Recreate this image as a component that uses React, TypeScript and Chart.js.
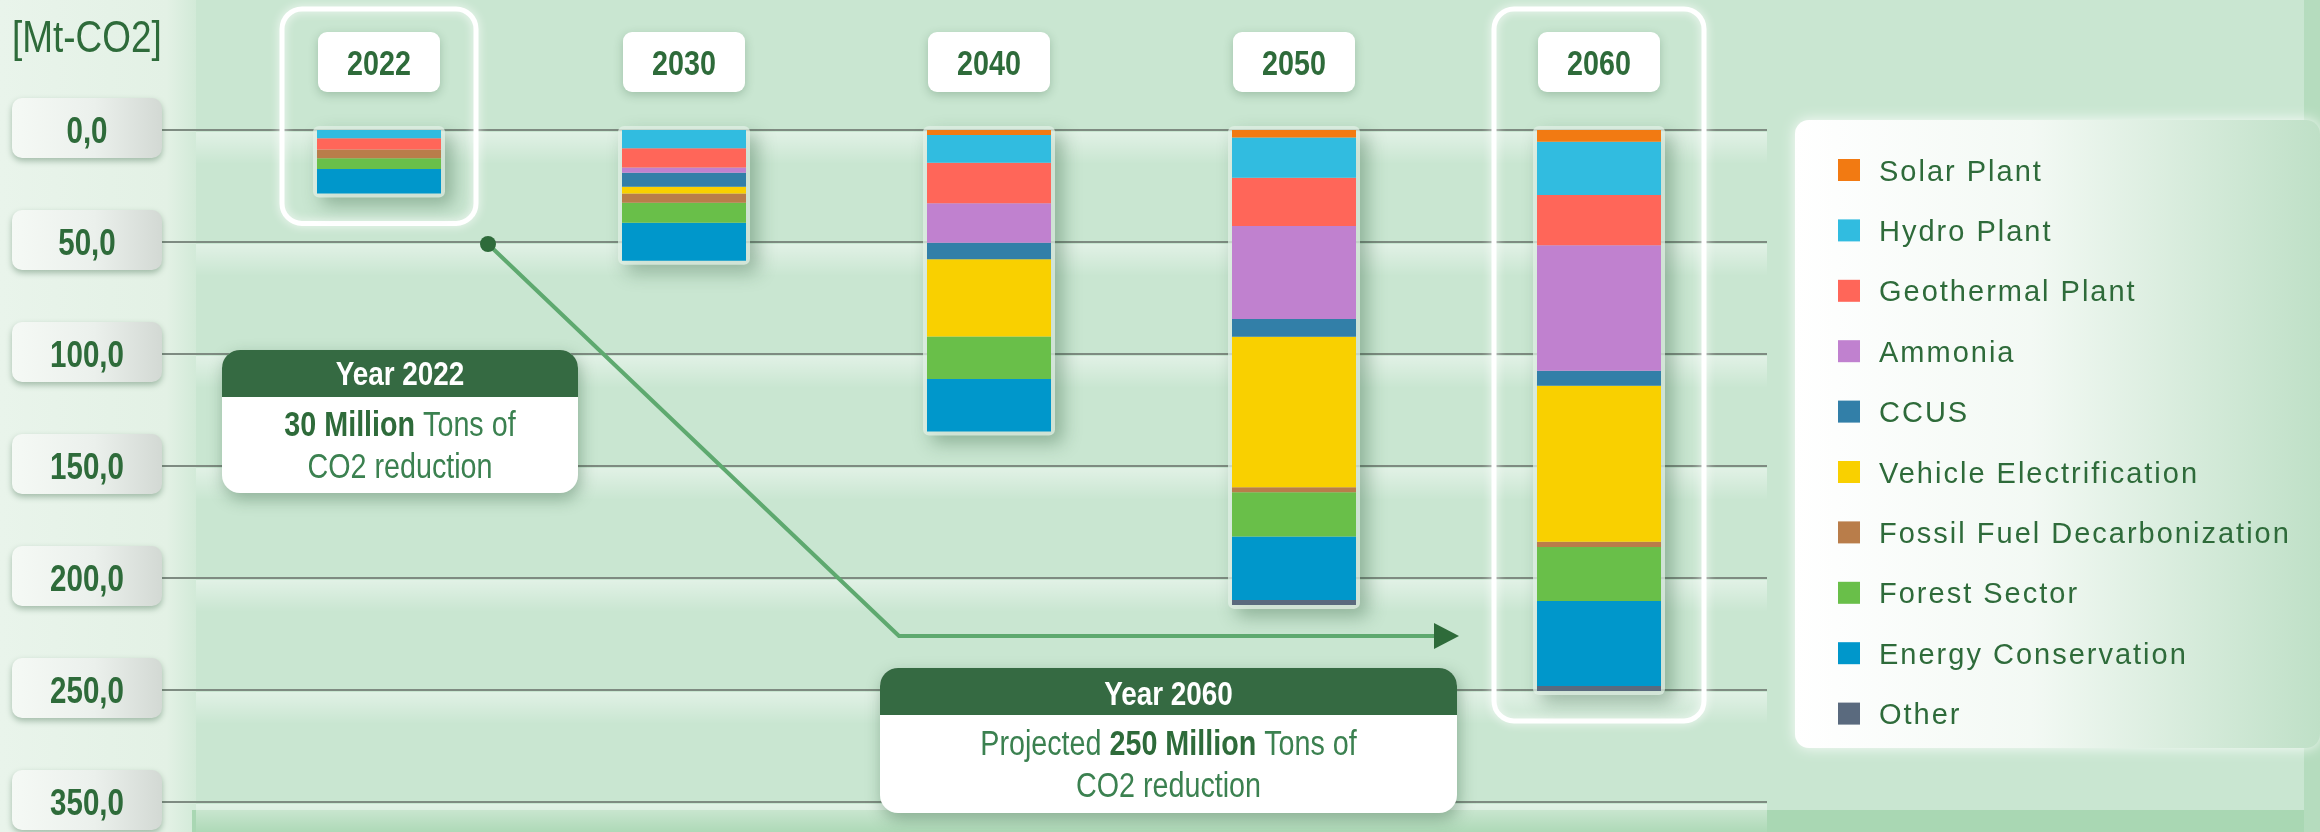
import React, { useEffect, useRef } from 'react';
import { Chart, registerables } from 'chart.js';

Chart.register(...registerables);

// ---------- data ----------
const YEARS = ['2022', '2030', '2040', '2050', '2060'];
const SERIES_NAMES = [
  'Solar Plant',
  'Hydro Plant',
  'Geothermal Plant',
  'Ammonia',
  'CCUS',
  'Vehicle Electrification',
  'Fossil Fuel Decarbonization',
  'Forest Sector',
  'Energy Conservation',
  'Other',
];
const SOLAR_PLANT = [0, 0, 2.2, 3.3, 5.3];
const HYDRO_PLANT = [3.7, 8.2, 12.4, 18.0, 23.7];
const GEOTHERMAL_PLANT = [5.0, 8.5, 18.1, 21.6, 22.4];
const AMMONIA = [0, 2.4, 17.6, 41.5, 56.1];
const CCUS = [0, 6.2, 7.4, 7.9, 6.7];
const VEHICLE_ELECTRIFICATION = [0, 3.0, 34.5, 67.2, 69.6];
const FOSSIL_FUEL_DECARBONIZATION = [3.9, 4.2, 0, 2.2, 2.4];
const FOREST_SECTOR = [4.8, 8.9, 19.0, 19.8, 24.1];
const ENERGY_CONSERVATION = [10.9, 17.0, 23.4, 28.3, 37.9];
const OTHER = [0, 0, 0, 2.2, 2.2];
const Y_TICK_VALUES = [0, 50, 100, 150, 200, 250, 300];
const Y_TICK_LABELS = ['0,0', '50,0', '100,0', '150,0', '200,0', '250,0', '350,0'];
const UNIT_LABEL = '[Mt-CO2]';
const HIGHLIGHTED_YEARS = ['2022', '2060'];

const SERIES_VALUES = [
  SOLAR_PLANT,
  HYDRO_PLANT,
  GEOTHERMAL_PLANT,
  AMMONIA,
  CCUS,
  VEHICLE_ELECTRIFICATION,
  FOSSIL_FUEL_DECARBONIZATION,
  FOREST_SECTOR,
  ENERGY_CONSERVATION,
  OTHER,
];

// ---------- styles ----------
const SERIES_COLORS = [
  '#F27A12',
  '#31BCE0',
  '#FF6659',
  '#C081CF',
  '#327FA8',
  '#F9D000',
  '#B97D4A',
  '#69BF49',
  '#0097CB',
  '#5A6A7E',
];
const FRAME_HALF_WIDTHS = [97, 105];
const W = 2320;
const H = 832;
const GREEN_DARK = '#2E6B3A';
const GREEN_TEXT = '#3B8150';
const HEADER_GREEN = '#356A42';
const SANS = "'Liberation Sans', Arial, 'DejaVu Sans', sans-serif";
const NARROW = 0.82;

function rr(ctx: CanvasRenderingContext2D, x: number, y: number, w: number, h: number, r: number) {
  ctx.beginPath();
  (ctx as any).roundRect(x, y, w, h, r);
}

function textWidth(ctx: CanvasRenderingContext2D, text: string, size: number, bold: boolean) {
  ctx.save();
  ctx.font = `${bold ? 'bold ' : ''}${size}px ${SANS}`;
  const w = ctx.measureText(text).width;
  ctx.restore();
  return w;
}

function drawCond(
  ctx: CanvasRenderingContext2D,
  text: string,
  x: number,
  baseline: number,
  size: number,
  bold: boolean,
  color: string,
  align: 'left' | 'center' = 'center',
  sx = NARROW,
) {
  const w = textWidth(ctx, text, size, bold) * sx;
  const left = align === 'center' ? x - w / 2 : x;
  ctx.save();
  ctx.font = `${bold ? 'bold ' : ''}${size}px ${SANS}`;
  ctx.translate(left, baseline);
  ctx.scale(sx, 1);
  ctx.fillStyle = color;
  ctx.textAlign = 'left';
  ctx.textBaseline = 'alphabetic';
  ctx.fillText(text, 0, 0);
  ctx.restore();
}

type Run = { t: string; bold: boolean; color: string };
function drawRuns(ctx: CanvasRenderingContext2D, runs: Run[], cx: number, baseline: number, size: number) {
  const widths = runs.map((r) => textWidth(ctx, r.t, size, r.bold) * NARROW);
  const total = widths.reduce((a, b) => a + b, 0);
  let x = cx - total / 2;
  runs.forEach((r, i) => {
    drawCond(ctx, r.t, x, baseline, size, r.bold, r.color, 'left');
    x += widths[i];
  });
}

function drawCallout(
  ctx: CanvasRenderingContext2D,
  x: number,
  y: number,
  w: number,
  h: number,
  headerH: number,
  title: string,
  lines: Run[][],
  titleBase: number,
  lineBases: number[],
) {
  ctx.save();
  ctx.shadowColor = 'rgba(20,70,35,0.35)';
  ctx.shadowBlur = 16;
  ctx.shadowOffsetY = 6;
  ctx.shadowOffsetX = 2;
  ctx.fillStyle = '#FFFFFF';
  rr(ctx, x, y, w, h, 18);
  ctx.fill();
  ctx.restore();
  ctx.save();
  rr(ctx, x, y, w, h, 18);
  ctx.clip();
  ctx.fillStyle = HEADER_GREEN;
  ctx.fillRect(x, y, w, headerH);
  ctx.restore();
  const cx = x + w / 2;
  drawCond(ctx, title, cx, titleBase, 34, true, '#FFFFFF');
  lines.forEach((ln, i) => drawRuns(ctx, ln, cx, lineBases[i], 35));
}

const decorPlugin = {
  id: 'decor',
  beforeDraw(chart: any) {
    const ctx: CanvasRenderingContext2D = chart.ctx;
    const yScale = chart.scales.y;
    ctx.save();
    ctx.fillStyle = '#C9E6D1';
    ctx.fillRect(0, 0, W, H);
    // left strip
    const g = ctx.createLinearGradient(0, 0, 196, 0);
    g.addColorStop(0, '#E9F4EB');
    g.addColorStop(0.85, '#E3F1E5');
    g.addColorStop(1, '#D2EAD8');
    ctx.fillStyle = g;
    ctx.fillRect(0, 0, 196, H);
    // bottom band
    ctx.fillStyle = '#A9D7B3';
    ctx.fillRect(192, 810, W - 192, H - 810);
    // right edge
    ctx.fillStyle = '#B5DCBE';
    ctx.fillRect(2304, 0, 16, H);
    // light bands beneath gridlines
    yScale.ticks.forEach((t: any) => {
      const py = yScale.getPixelForValue(t.value);
      const bg = ctx.createLinearGradient(0, py + 2, 0, py + 34);
      bg.addColorStop(0, 'rgba(255,255,255,0.45)');
      bg.addColorStop(1, 'rgba(255,255,255,0)');
      ctx.fillStyle = bg;
      ctx.fillRect(196, py + 2, 1767 - 196, 32);
    });
    ctx.restore();
  },
  beforeDatasetsDraw(chart: any) {
    const ctx: CanvasRenderingContext2D = chart.ctx;
    const yScale = chart.scales.y;
    const xScale = chart.scales.x;
    ctx.save();
    // gridlines
    yScale.ticks.forEach((t: any) => {
      const py = Math.round(yScale.getPixelForValue(t.value));
      ctx.fillStyle = '#7E8B81';
      ctx.fillRect(162, py - 1, 1767 - 162, 2);
    });
    // tick boxes + labels
    yScale.ticks.forEach((t: any, i: number) => {
      const py = yScale.getPixelForValue(t.value);
      ctx.save();
      ctx.shadowColor = 'rgba(30,80,45,0.35)';
      ctx.shadowBlur = 6;
      ctx.shadowOffsetY = 3;
      const gb = ctx.createLinearGradient(12, 0, 162, 0);
      gb.addColorStop(0, '#F5F9F5');
      gb.addColorStop(0.55, '#EBF0EC');
      gb.addColorStop(1, '#D3D9D4');
      ctx.fillStyle = gb;
      rr(ctx, 12, py - 32, 150, 60, 10);
      ctx.fill();
      ctx.restore();
      drawCond(ctx, Y_TICK_LABELS[i] ?? String(t.value), 87, py + 13, 36, true, GREEN_DARK);
    });
    // unit label
    drawCond(ctx, UNIT_LABEL, 12, 52, 45, false, GREEN_DARK, 'left');

    const metas = chart.getSortedVisibleDatasetMetas();
    const stackBox = (j: number) => {
      let top = Infinity;
      let bottom = -Infinity;
      let x = 0;
      let w = 0;
      metas.forEach((m: any) => {
        const el = m.data[j];
        if (!el) return;
        const p = el.getProps(['x', 'y', 'base', 'width'], true);
        top = Math.min(top, p.y, p.base);
        bottom = Math.max(bottom, p.y, p.base);
        x = p.x;
        w = p.width;
      });
      return { top, bottom, x, w };
    };

    // highlight frames
    let hi = 0;
    YEARS.forEach((yr, j) => {
      if (!HIGHLIGHTED_YEARS.includes(yr)) return;
      const b = stackBox(j);
      const x = xScale.getPixelForValue(j);
      const hw = FRAME_HALF_WIDTHS[hi++] ?? 100;
      ctx.save();
      ctx.strokeStyle = '#FFFFFF';
      ctx.lineWidth = 5;
      ctx.shadowColor = 'rgba(255,255,255,0.95)';
      ctx.shadowBlur = 10;
      rr(ctx, x - hw, 9, hw * 2, b.bottom + 30 - 9, 20);
      ctx.stroke();
      ctx.restore();
    });

    // year label boxes
    YEARS.forEach((yr, j) => {
      const x = xScale.getPixelForValue(j);
      ctx.save();
      ctx.shadowColor = 'rgba(30,80,45,0.25)';
      ctx.shadowBlur = 10;
      ctx.shadowOffsetY = 3;
      ctx.fillStyle = '#FFFFFF';
      rr(ctx, x - 61, 32, 122, 60, 9);
      ctx.fill();
      ctx.restore();
      drawCond(ctx, yr, x, 74.5, 35, true, GREEN_DARK);
    });

    // bar shadows / halo
    YEARS.forEach((_, j) => {
      const b = stackBox(j);
      if (!isFinite(b.top)) return;
      ctx.save();
      ctx.shadowColor = 'rgba(30,80,45,0.45)';
      ctx.shadowBlur = 18;
      ctx.shadowOffsetX = 8;
      ctx.shadowOffsetY = 8;
      ctx.fillStyle = 'rgba(225,240,230,0.75)';
      rr(ctx, b.x - b.w / 2 - 4, b.top - 4, b.w + 8, b.bottom - b.top + 8, 6);
      ctx.fill();
      ctx.restore();
    });
    ctx.restore();
  },
  afterDatasetsDraw(chart: any) {
    const ctx: CanvasRenderingContext2D = chart.ctx;
    const yScale = chart.scales.y;
    ctx.save();
    // arrow
    const startY = yScale.getPixelForValue(50) + 2;
    const cornerY = 636;
    ctx.strokeStyle = '#5EA96F';
    ctx.lineWidth = 4;
    ctx.lineJoin = 'round';
    ctx.beginPath();
    ctx.moveTo(488, startY);
    ctx.lineTo(899, cornerY);
    ctx.lineTo(1438, cornerY);
    ctx.stroke();
    ctx.fillStyle = GREEN_DARK;
    ctx.beginPath();
    ctx.arc(488, startY, 8, 0, Math.PI * 2);
    ctx.fill();
    ctx.beginPath();
    ctx.moveTo(1459, cornerY);
    ctx.lineTo(1434, cornerY - 13);
    ctx.lineTo(1434, cornerY + 13);
    ctx.closePath();
    ctx.fill();

    // callouts
    drawCallout(
      ctx,
      222,
      350,
      356,
      143,
      47,
      'Year 2022',
      [
        [
          { t: '30 Million', bold: true, color: GREEN_DARK },
          { t: ' Tons of', bold: false, color: GREEN_TEXT },
        ],
        [{ t: 'CO2 reduction', bold: false, color: GREEN_TEXT }],
      ],
      385,
      [436, 478],
    );
    drawCallout(
      ctx,
      880,
      668,
      577,
      145,
      47,
      'Year 2060',
      [
        [
          { t: 'Projected ', bold: false, color: GREEN_TEXT },
          { t: '250 Million', bold: true, color: GREEN_DARK },
          { t: ' Tons of', bold: false, color: GREEN_TEXT },
        ],
        [{ t: 'CO2 reduction', bold: false, color: GREEN_TEXT }],
      ],
      705,
      [755, 797],
    );

    // legend
    const lx = 1795;
    const ly = 120;
    const lw = 525;
    const lh = 628;
    ctx.save();
    ctx.shadowColor = 'rgba(255,255,255,0.9)';
    ctx.shadowBlur = 14;
    const lg = ctx.createLinearGradient(lx, 0, lx + lw, 0);
    lg.addColorStop(0, '#FFFFFF');
    lg.addColorStop(0.45, '#F3F9F4');
    lg.addColorStop(1, '#BFE0C7');
    ctx.fillStyle = lg;
    rr(ctx, lx, ly, lw, lh, 14);
    ctx.fill();
    ctx.restore();
    chart.data.datasets.forEach((ds: any, i: number) => {
      const cy = 170 + i * 60.4;
      ctx.fillStyle = ds.backgroundColor;
      ctx.fillRect(1838, cy - 11, 22, 22);
      ctx.save();
      ctx.font = `29px ${SANS}`;
      (ctx as any).letterSpacing = '2px';
      ctx.fillStyle = GREEN_DARK;
      ctx.textAlign = 'left';
      ctx.textBaseline = 'alphabetic';
      ctx.fillText(ds.label, 1879, cy + 10.5);
      ctx.restore();
    });
    ctx.restore();
  },
};

export default function App() {
  const ref = useRef<HTMLCanvasElement | null>(null);

  useEffect(() => {
    document.body.style.margin = '0';
    if (!ref.current) return;
    const chart = new Chart(ref.current, {
      type: 'bar',
      data: {
        labels: YEARS,
        datasets: SERIES_NAMES.map((name, i) => ({
          label: name,
          data: SERIES_VALUES[i],
          backgroundColor: SERIES_COLORS[i],
          borderWidth: 0,
          categoryPercentage: 1,
          barPercentage: 124 / 305,
        })),
      },
      options: {
        responsive: false,
        animation: false,
        devicePixelRatio: 1,
        layout: { padding: { left: 226.5, right: 568.5, top: 130, bottom: 30 } },
        plugins: { legend: { display: false }, tooltip: { enabled: false } },
        scales: {
          x: { type: 'category', stacked: true, display: false, grid: { display: false } },
          y: {
            type: 'linear',
            stacked: true,
            reverse: true,
            min: 0,
            max: 300,
            display: false,
            ticks: { stepSize: 50 },
            afterBuildTicks: (s: any) => {
              s.ticks = Y_TICK_VALUES.map((v) => ({ value: v }));
            },
          },
        },
      },
      plugins: [decorPlugin as any],
    });
    return () => chart.destroy();
  }, []);

  return (
    <div style={{ position: 'fixed', left: 0, top: 0, width: W, height: H, overflow: 'hidden' }}>
      <canvas ref={ref} width={W} height={H} style={{ display: 'block', width: W, height: H }} />
    </div>
  );
}
